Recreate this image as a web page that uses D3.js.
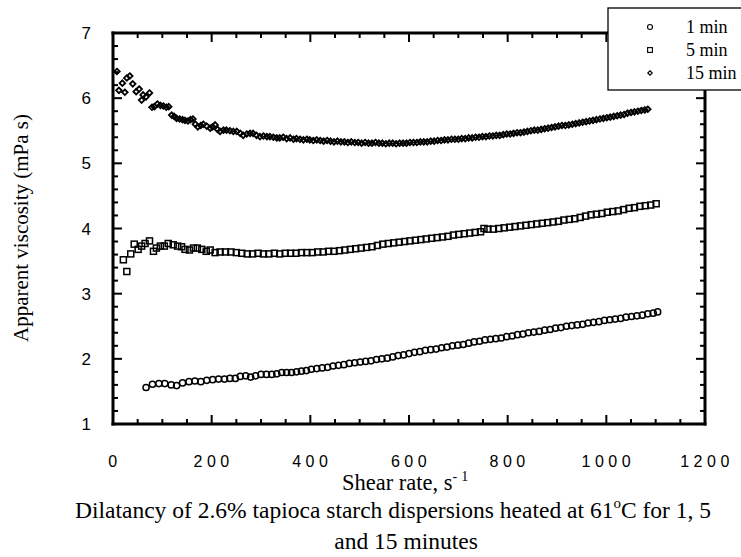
<!DOCTYPE html>
<html>
<head>
<meta charset="utf-8">
<script src="https://cdn.jsdelivr.net/npm/d3@7/dist/d3.min.js"></script>
<style>
  body { margin: 0; background: #fff; }
  svg { display: block; }
</style>
</head>
<body>
<svg id="chart" width="741" height="557"></svg>
<script>
// shear rate (1/s) and apparent viscosity (mPa s)
const shear1 = [67,80,93,105,118,129,141,154,166,178,190,202,214,226,237,248,258,269,279,289,300,311,322,332,342,352,362,372,382,392,402,413,424,435,446,457,468,479,490,501,512,523,534,545,556,567,578,589,600,611,622,633,644,655,666,677,688,699,710,721,732,743,754,765,776,787,798,809,820,831,842,853,864,875,886,897,908,919,930,941,952,963,974,985,996,1007,1018,1029,1040,1051,1062,1073,1084,1095,1104];
const visc1 = [1.56,1.61,1.62,1.62,1.60,1.59,1.63,1.65,1.66,1.65,1.67,1.68,1.69,1.69,1.70,1.70,1.73,1.74,1.72,1.74,1.76,1.76,1.76,1.77,1.79,1.79,1.79,1.80,1.81,1.82,1.84,1.85,1.86,1.87,1.89,1.90,1.91,1.93,1.94,1.95,1.96,1.97,1.99,2.00,2.01,2.03,2.05,2.06,2.08,2.10,2.11,2.13,2.14,2.15,2.17,2.18,2.20,2.21,2.22,2.24,2.26,2.27,2.29,2.30,2.31,2.32,2.34,2.35,2.37,2.38,2.40,2.41,2.42,2.44,2.45,2.47,2.48,2.50,2.51,2.52,2.53,2.55,2.56,2.57,2.59,2.60,2.61,2.62,2.64,2.65,2.66,2.67,2.69,2.70,2.72];

const shear5 = [21,28,36,43,51,58,65,74,82,88,96,104,112,122,131,139,146,155,163,171,180,189,197,207,217,228,239,250,261,272,283,294,305,316,327,338,349,360,371,382,393,404,415,426,437,448,459,470,481,492,503,514,525,536,547,558,569,580,591,602,613,624,635,646,657,668,679,690,701,712,723,734,745,752,760,771,782,793,804,815,826,837,848,859,870,881,892,903,914,925,936,947,958,969,980,991,1002,1013,1024,1035,1046,1057,1068,1079,1090,1101];
const visc5 = [3.52,3.34,3.61,3.76,3.68,3.73,3.77,3.81,3.65,3.70,3.73,3.73,3.77,3.75,3.73,3.72,3.68,3.67,3.70,3.70,3.68,3.65,3.67,3.63,3.64,3.64,3.64,3.63,3.62,3.61,3.61,3.62,3.61,3.61,3.62,3.61,3.62,3.62,3.62,3.63,3.63,3.63,3.64,3.64,3.65,3.65,3.66,3.67,3.68,3.69,3.70,3.71,3.72,3.74,3.76,3.77,3.78,3.79,3.80,3.81,3.82,3.83,3.84,3.85,3.86,3.87,3.88,3.90,3.91,3.92,3.93,3.94,3.95,4.00,3.99,3.99,4.00,4.01,4.02,4.03,4.04,4.05,4.06,4.07,4.08,4.09,4.10,4.11,4.13,4.14,4.15,4.17,4.19,4.21,4.22,4.23,4.25,4.26,4.27,4.29,4.31,4.32,4.34,4.35,4.36,4.38];

const shear15 = [8,12,19,24,28,34,40,47,53,58,61,67,74,79,84,90,96,102,108,113,119,124,129,135,141,146,152,157,162,167,172,178,183,190,197,202,207,212,217,224,230,237,244,251,258,264,271,278,284,291,298,305,312,318,325,332,338,345,352,359,366,372,379,386,393,399,406,413,420,427,434,441,448,455,462,469,476,483,490,497,504,511,518,525,532,539,546,553,560,567,574,581,588,595,602,609,616,623,630,637,644,651,658,665,672,679,686,693,700,707,714,721,728,735,742,749,756,763,770,777,784,791,798,805,812,819,826,833,840,847,854,861,868,875,882,889,896,903,910,917,924,931,938,945,952,959,966,973,980,987,994,1001,1008,1015,1022,1029,1036,1043,1050,1057,1064,1071,1078,1084];
const visc15 = [6.41,6.12,6.23,6.09,6.31,6.34,6.22,6.10,6.14,5.97,6.05,6.02,6.08,5.86,5.87,5.91,5.89,5.88,5.86,5.87,5.74,5.72,5.69,5.68,5.67,5.66,5.65,5.67,5.68,5.60,5.56,5.58,5.60,5.57,5.54,5.56,5.59,5.52,5.49,5.51,5.51,5.50,5.49,5.49,5.46,5.43,5.45,5.46,5.46,5.43,5.41,5.42,5.41,5.41,5.40,5.39,5.39,5.40,5.38,5.39,5.37,5.38,5.37,5.36,5.37,5.36,5.35,5.36,5.35,5.34,5.35,5.34,5.33,5.34,5.33,5.33,5.32,5.33,5.32,5.32,5.31,5.32,5.31,5.31,5.32,5.31,5.31,5.30,5.31,5.31,5.30,5.31,5.31,5.31,5.32,5.32,5.32,5.33,5.33,5.33,5.34,5.34,5.35,5.35,5.36,5.36,5.37,5.37,5.37,5.38,5.38,5.39,5.39,5.40,5.40,5.41,5.41,5.42,5.42,5.43,5.43,5.44,5.45,5.45,5.46,5.47,5.47,5.48,5.49,5.50,5.51,5.51,5.52,5.53,5.54,5.55,5.56,5.57,5.58,5.58,5.59,5.60,5.61,5.62,5.63,5.64,5.65,5.66,5.67,5.68,5.69,5.70,5.71,5.72,5.73,5.74,5.75,5.77,5.78,5.79,5.80,5.81,5.82,5.83];

const xMajor = [0,200,400,600,800,1000,1200];
const xMinor = [50,100,150,250,300,350,450,500,550,650,700,750,850,900,950,1050,1100,1150];
const yMajor = [1,2,3,4,5,6,7];
const yMinor = [1.2,1.4,1.6,1.8,2.2,2.4,2.6,2.8,3.2,3.4,3.6,3.8,4.2,4.4,4.6,4.8,5.2,5.4,5.6,5.8,6.2,6.4,6.6,6.8];
const legendLabels = ['1 min','5 min','15 min'];

const svg = d3.select('#chart');
const x = d3.scaleLinear().domain([0,1200]).range([113,705]);
const y = d3.scaleLinear().domain([1,7]).range([424,33]);

const sansFont = '"Liberation Sans", Arial, sans-serif';
const serifFont = '"Liberation Serif", "Times New Roman", serif';
const tw = 2;   // tick thickness
const fw = 3;   // frame thickness

// inward ticks on all four sides, as small filled bars
const xTicks = xMajor.map(v => ({v, len: 9})).concat(xMinor.map(v => ({v, len: 5})));
const yTicks = yMajor.map(v => ({v, len: 9})).concat(yMinor.map(v => ({v, len: 5})));
const tickLayer = svg.append('g').attr('fill', '#000');
tickLayer.selectAll('rect.xb').data(xTicks).enter().append('rect').attr('class', 'xb')
	.attr('x', d => x(d.v) - tw / 2).attr('y', d => y(1) - d.len).attr('width', tw).attr('height', d => d.len);
tickLayer.selectAll('rect.xt').data(xTicks).enter().append('rect').attr('class', 'xt')
	.attr('x', d => x(d.v) - tw / 2).attr('y', y(7)).attr('width', tw).attr('height', d => d.len);
tickLayer.selectAll('rect.yl').data(yTicks).enter().append('rect').attr('class', 'yl')
	.attr('x', x(0)).attr('y', d => y(d.v) - tw / 2).attr('width', d => d.len).attr('height', tw);
tickLayer.selectAll('rect.yr').data(yTicks).enter().append('rect').attr('class', 'yr')
	.attr('x', d => x(1200) - d.len).attr('y', d => y(d.v) - tw / 2).attr('width', d => d.len).attr('height', tw);

// frame, as four filled bars
const frame = [
	[x(0) - fw / 2, y(7) - fw / 2, x(1200) - x(0) + fw, fw],
	[x(0) - fw / 2, y(1) - fw / 2, x(1200) - x(0) + fw, fw],
	[x(0) - fw / 2, y(7) - fw / 2, fw, y(1) - y(7) + fw],
	[x(1200) - fw / 2, y(7) - fw / 2, fw, y(1) - y(7) + fw]
];
svg.append('g').selectAll('rect').data(frame).enter().append('rect')
	.attr('x', d => d[0]).attr('y', d => d[1]).attr('width', d => d[2]).attr('height', d => d[3])
	.attr('fill', '#000');

// tick labels
svg.append('g').selectAll('text').data(xMajor).enter().append('text')
	.attr('x', d => x(d) + 2).attr('y', 467).attr('text-anchor', 'middle')
	.attr('font-family', sansFont).attr('font-size', 16).attr('letter-spacing', '4.5px')
	.text(d => d);
svg.append('g').selectAll('text').data(yMajor).enter().append('text')
	.attr('x', 91).attr('y', d => y(d) + 6).attr('text-anchor', 'end')
	.attr('font-family', sansFont).attr('font-size', 17)
	.text(d => d);

const symbols = {
	circle: g => g.append('circle').attr('r', 3.1),
	square: g => g.append('rect').attr('x', -3).attr('y', -3).attr('width', 6).attr('height', 6),
	diamond: g => g.append('path').attr('d', 'M0,-2.8L2.8,0L0,2.8L-2.8,0Z')
}

const renderSeries = (xs, ys, shape, sw) => {
	const pts = xs.map((d, i) => ({x: d, y: ys[i]}));
	const layer = svg.append('g');
	layer.selectAll('g.pt')
		.data(pts)
		.enter()
		.append('g')
		.attr('class', 'pt')
		.attr('transform', d => 'translate(' + x(d.x) + ',' + y(d.y) + ')')
		.each(function() { symbols[shape](d3.select(this)) })
		.selectAll('*')
		.attr('fill', 'none').attr('stroke', '#000').attr('stroke-width', sw);
}
renderSeries(shear1, visc1, 'circle', 1.5);
renderSeries(shear5, visc5, 'square', 1.5);
renderSeries(shear15, visc15, 'diamond', 1.8);

// legend box (sits over the top-right corner of the frame)
const legend = svg.append('g');
legend.append('rect').attr('x', 608).attr('y', 8).attr('width', 140).attr('height', 82)
	.attr('fill', '#fff').attr('stroke', '#000').attr('stroke-width', 1.3);
const shapes = ['circle','square','diamond'];
legendLabels.forEach((lab, i) => {
	const ly = 27 + i * 23;
	const g = legend.append('g').attr('transform', 'translate(650,' + ly + ')');
	symbols[shapes[i]](g);
	g.selectAll('*').attr('fill', 'none').attr('stroke', '#000').attr('stroke-width', 1.4)
		.attr('transform', 'scale(0.8)');
	legend.append('text').attr('x', 686).attr('y', ly + 6)
		.attr('font-family', serifFont).attr('font-size', 18).text(lab);
});

// axis titles
svg.append('text')
	.attr('transform', 'translate(28,228) rotate(-90)')
	.attr('text-anchor', 'middle')
	.attr('font-family', serifFont).attr('font-size', 21)
	.text('Apparent viscosity (mPa s)');

const xt = svg.append('text').attr('x', 342).attr('y', 490)
	.attr('font-family', serifFont).attr('font-size', 22.5);
xt.append('tspan').text('Shear rate, s');
xt.append('tspan').attr('dy', -9).attr('font-size', 14).text('-');
xt.append('tspan').attr('dx', 4).attr('font-size', 14).text('1');

// caption
const cap = svg.append('text').attr('x', 393).attr('y', 518).attr('text-anchor', 'middle')
	.attr('font-family', serifFont).attr('font-size', 23.5);
cap.append('tspan').text('Dilatancy of 2.6% tapioca starch dispersions heated at 61');
cap.append('tspan').attr('dy', -10).attr('font-size', 15).text('o');
cap.append('tspan').attr('dy', 10).text('C for 1, 5');
svg.append('text').attr('x', 406).attr('y', 549).attr('text-anchor', 'middle')
	.attr('font-family', serifFont).attr('font-size', 23.5)
	.text('and 15 minutes');
</script>
</body>
</html>
